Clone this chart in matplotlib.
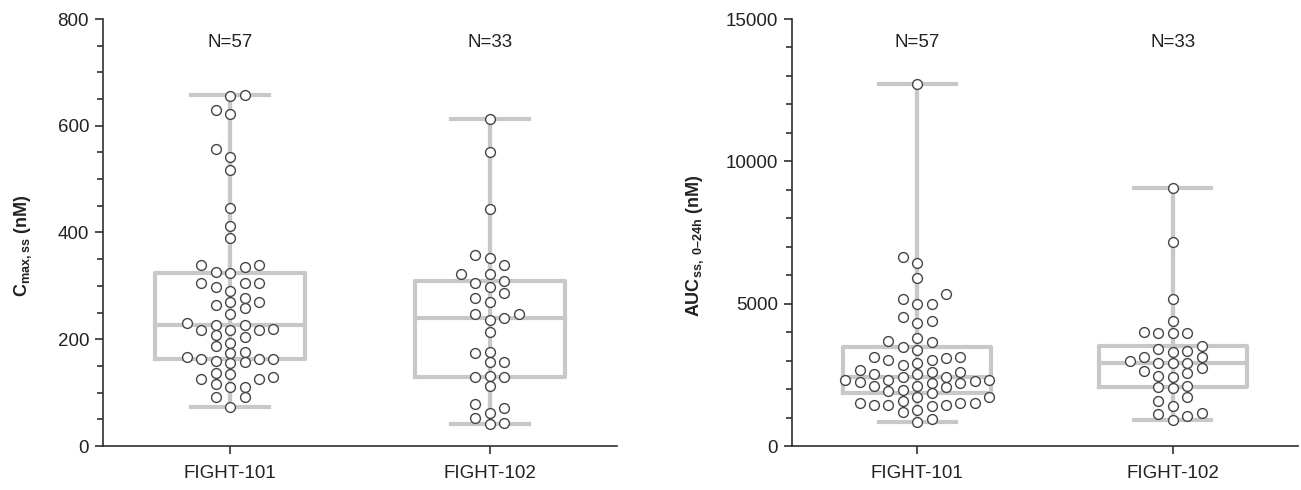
import numpy as np
import matplotlib
matplotlib.use('Agg')
import matplotlib.pyplot as plt
from matplotlib.ticker import MultipleLocator
import matplotlib.transforms as mtransforms

# study groups
studies = ['FIGHT-101', 'FIGHT-102']

# Cmax,ss (nM) per patient
cmax_101 = [657, 655, 629, 622, 556, 542, 518, 446, 413, 389,
            340, 339, 335, 326, 325, 306, 305, 305, 297, 291,
            277, 270, 270, 264, 258, 248, 231, 227, 227, 220,
            218, 218, 218, 208, 205, 193, 187, 177, 174, 167,
            160, 158, 155, 163, 163, 163, 136, 135, 129, 125,
            125, 117, 111, 111, 92, 92, 74]
cmax_102 = [612, 550, 444, 358, 353, 340, 322, 322, 309, 305,
            298, 286, 277, 269, 248, 248, 239, 236, 214, 177,
            174, 158, 157, 132, 130, 130, 113, 78, 71, 61,
            53, 44, 42]

# AUCss,0-24h (nM) per patient
auc_101 = [12700, 6630, 6420, 5910, 5340, 5160, 4990, 4990, 4540, 4390,
           4310, 3810, 3700, 3640, 3470, 3370, 3140, 3140, 3100, 3020,
           3020, 2930, 2850, 2670, 2590, 2590, 2530, 2530, 2440, 2440,
           2320, 2320, 2320, 2280, 2260, 2230, 2200, 2110, 2110, 2060,
           1970, 1940, 1850, 1730, 1730, 1590, 1520, 1520, 1500, 1440,
           1440, 1440, 1400, 1270, 1180, 940, 860]
auc_102 = [9080, 7180, 5150, 4400, 4020, 3980, 3980, 3980, 3530, 3410,
           3340, 3290, 3140, 3120, 3000, 2930, 2930, 2900, 2750, 2650,
           2550, 2470, 2440, 2120, 2080, 2030, 1730, 1580, 1400, 1150,
           1120, 1070, 910]

gray = '#c8c8c8'
edge = '#454545'
dark = '#303030'

plt.rcParams['font.family'] = ['Liberation Sans', 'DejaVu Sans']
plt.rcParams['mathtext.fontset'] = 'custom'
plt.rcParams['mathtext.rm'] = 'Liberation Sans:bold'
plt.rcParams['mathtext.it'] = 'Liberation Sans:bold'
plt.rcParams['mathtext.bf'] = 'Liberation Sans:bold'

W, H = 1301, 490
fig = plt.figure(figsize=(W / 100, H / 100), dpi=100)
ax1 = fig.add_axes([103 / W, 44 / H, 514 / W, 427 / H])
ax2 = fig.add_axes([792 / W, 44 / H, 506 / W, 427 / H])


def swarm(ax, values, center, step_px=14.4, gap_px=10.0):
    # column-style beeswarm computed in display pixels
    vals = np.asarray(values, dtype=float)
    ypix = ax.transData.transform(np.column_stack([np.zeros(len(vals)), vals]))[:, 1]
    xp = ax.transData.transform([(0, 0), (1, 0)])[:, 0]
    step = step_px / (xp[1] - xp[0])
    cols = {}
    col_of = np.zeros(len(vals))
    n_left, n_right = 0, 0
    for i in np.argsort(vals):
        k = 0
        while True:
            if k == 0:
                cands = [0]
            elif n_right > n_left:
                cands = [-k, k]
            else:
                cands = [k, -k]
            done = False
            for c in cands:
                if all(abs(ypix[i] - y) >= gap_px for y in cols.get(c, [])):
                    cols.setdefault(c, []).append(ypix[i])
                    col_of[i] = c
                    if c > 0:
                        n_right += 1
                    elif c < 0:
                        n_left += 1
                    done = True
                    break
            if done:
                break
            k += 1
    return center + col_of * step


def panel(ax, groups, ymax, major, minor, ylabel, label_x):
    ax.set_xlim(-0.49, 1.49)
    ax.set_ylim(0, ymax)
    pos = [0, 1]

    ax.vlines(pos, [min(g) for g in groups], [max(g) for g in groups],
              color=gray, lw=3, zorder=1)
    ax.boxplot(groups, positions=pos, widths=0.58, whis=(0, 100),
               capwidths=0.3, showfliers=False,
               boxprops=dict(color=gray, lw=3),
               whiskerprops=dict(color=gray, lw=3),
               capprops=dict(color=gray, lw=3),
               medianprops=dict(color=gray, lw=3))

    trans = mtransforms.blended_transform_factory(ax.transData, ax.transAxes)
    for p, g in zip(pos, groups):
        xs = swarm(ax, g, p)
        ax.scatter(xs, g, s=50, facecolor='white', edgecolor=edge,
                   linewidth=1.0, zorder=3, clip_on=False)
        ax.text(p, 0.946, 'N=%d' % len(g), transform=trans,
                ha='center', va='center', fontsize=13.5, color='#222222')

    ax.set_xticks(pos)
    ax.set_xticklabels(studies)
    ax.yaxis.set_major_locator(MultipleLocator(major))
    ax.yaxis.set_minor_locator(MultipleLocator(minor))
    ax.tick_params(axis='both', which='major', length=6, width=1.2,
                   color=dark, labelsize=13.5, labelcolor='#222222', pad=4)
    ax.tick_params(axis='y', which='minor', length=4.5, width=1.2, color=dark)
    ax.tick_params(axis='x', pad=8)
    for s in ['top', 'right']:
        ax.spines[s].set_visible(False)
    for s in ['left', 'bottom']:
        ax.spines[s].set_linewidth(1.2)
        ax.spines[s].set_color(dark)

    ax.set_ylabel(ylabel, fontsize=13, fontweight='bold', color='#222222')
    ax.yaxis.set_label_coords(label_x, 0.47)


panel(ax1, [cmax_101, cmax_102], 800, 200, 50,
      'C$_{\\mathrm{max,ss}}$ (nM)', -0.135)
panel(ax2, [auc_101, auc_102], 15000, 5000, 1000,
      'AUC$_{\\mathrm{ss,\\ 0\u201324h}}$ (nM)', -0.17)

fig.savefig('out.png', dpi=100)
